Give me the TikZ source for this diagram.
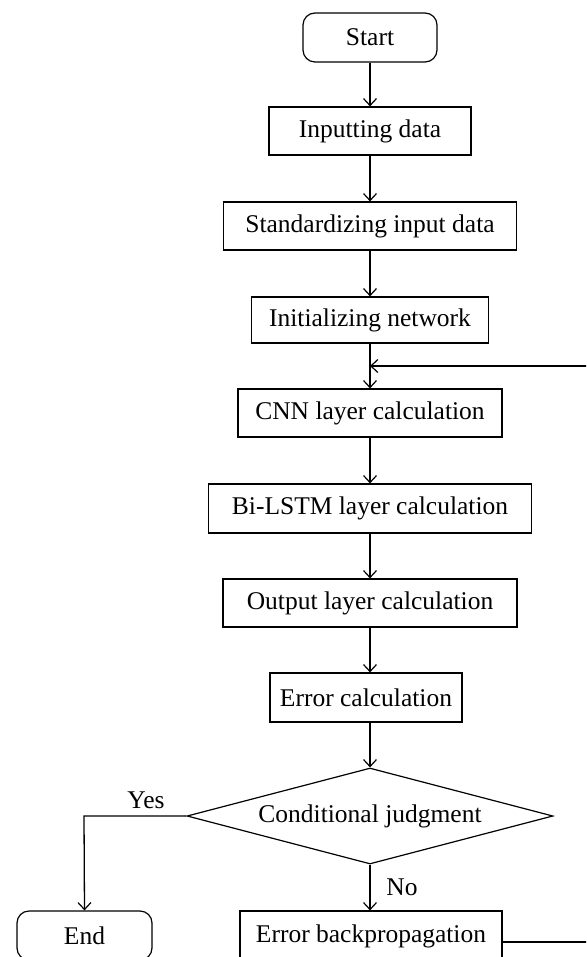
\documentclass[tikz,border=0pt]{standalone}
\usepackage{fontspec}
\setmainfont{Liberation Serif}
\usetikzlibrary{arrows.meta,shapes.geometric}
\tikzset{
  box/.style={draw, line width=1.2pt, rectangle, minimum height=48pt, inner sep=0pt, font=\fontsize{25.5}{28}\selectfont},
  term/.style={box, rounded corners=12pt},
  decision/.style={draw, line width=1.2pt, diamond, aspect=3.8125, inner sep=0pt, minimum width=366pt, minimum height=96pt, font=\fontsize{25.5}{28}\selectfont},
  flow/.style={line width=1.3pt, -{Straight Barb[length=7pt,width=13pt,line width=1.2pt]}},
  lbl/.style={font=\fontsize{25.5}{28}\selectfont, inner sep=0pt}
}
\begin{document}
\begin{tikzpicture}[x=1pt,y=-1pt]
\clip (0,0) rectangle (586,957);
\fill[white] (0,0) rectangle (586,957);
\node[term, minimum width=134pt, minimum height=49pt] (start) at (370,37.5) {Start};
\node[box, minimum width=202pt] (input) at (370,131) {Inputting data};
\node[box, minimum width=293pt] (std) at (370,226) {Standardizing input data};
\node[box, minimum width=237pt, minimum height=46pt] (init) at (370,320) {Initializing network};
\node[box, minimum width=264pt] (cnn) at (370,413) {CNN layer calculation};
\node[box, minimum width=323pt, minimum height=49pt] (bilstm) at (370,508.5) {Bi-LSTM layer calculation};
\node[box, minimum width=294pt] (out) at (370,603) {Output layer calculation};
\node[box, minimum width=192pt, minimum height=49pt] (err) at (366,697.5) {Error calculation};
\node[decision] (cond) at (370,816) {Conditional judgment};
\node[term, minimum width=135pt, minimum height=49pt] (end) at (84.5,935.5) {End};
\node[box, minimum width=262pt, minimum height=50pt] (bp) at (371,936) {Error backpropagation};
\coordinate (loopin) at (370,366);
\coordinate (rt1) at (610,942);
\coordinate (rt2) at (610,366);
\coordinate (yk) at (84,816);
\node[lbl] (yes) at (146,800) {Yes};
\node[lbl] (no) at (402,887) {No};
\draw[flow] (start.south) -- (start.south |- input.north);
\draw[flow] (input.south) -- (input.south |- std.north);
\draw[flow] (std.south) -- (std.south |- init.north);
\draw[flow] (init.south) -- (init.south |- cnn.north);
\draw[flow] (cnn.south) -- (cnn.south |- bilstm.north);
\draw[flow] (bilstm.south) -- (bilstm.south |- out.north);
\draw[flow] (out.south) -- (out.south |- err.north);
\draw[flow] (err.south -| cond.north) -- (cond.north);
\draw[flow] (cond.west) -- (yk) -- (end.north);
\draw[flow] (cond.south) -- (bp.north -| cond.south);
\draw[line width=1.3pt] (bp.east |- rt1) -- (rt1) -- (rt2);
\draw[flow] (rt2) -- (loopin);
\end{tikzpicture}
\end{document}
